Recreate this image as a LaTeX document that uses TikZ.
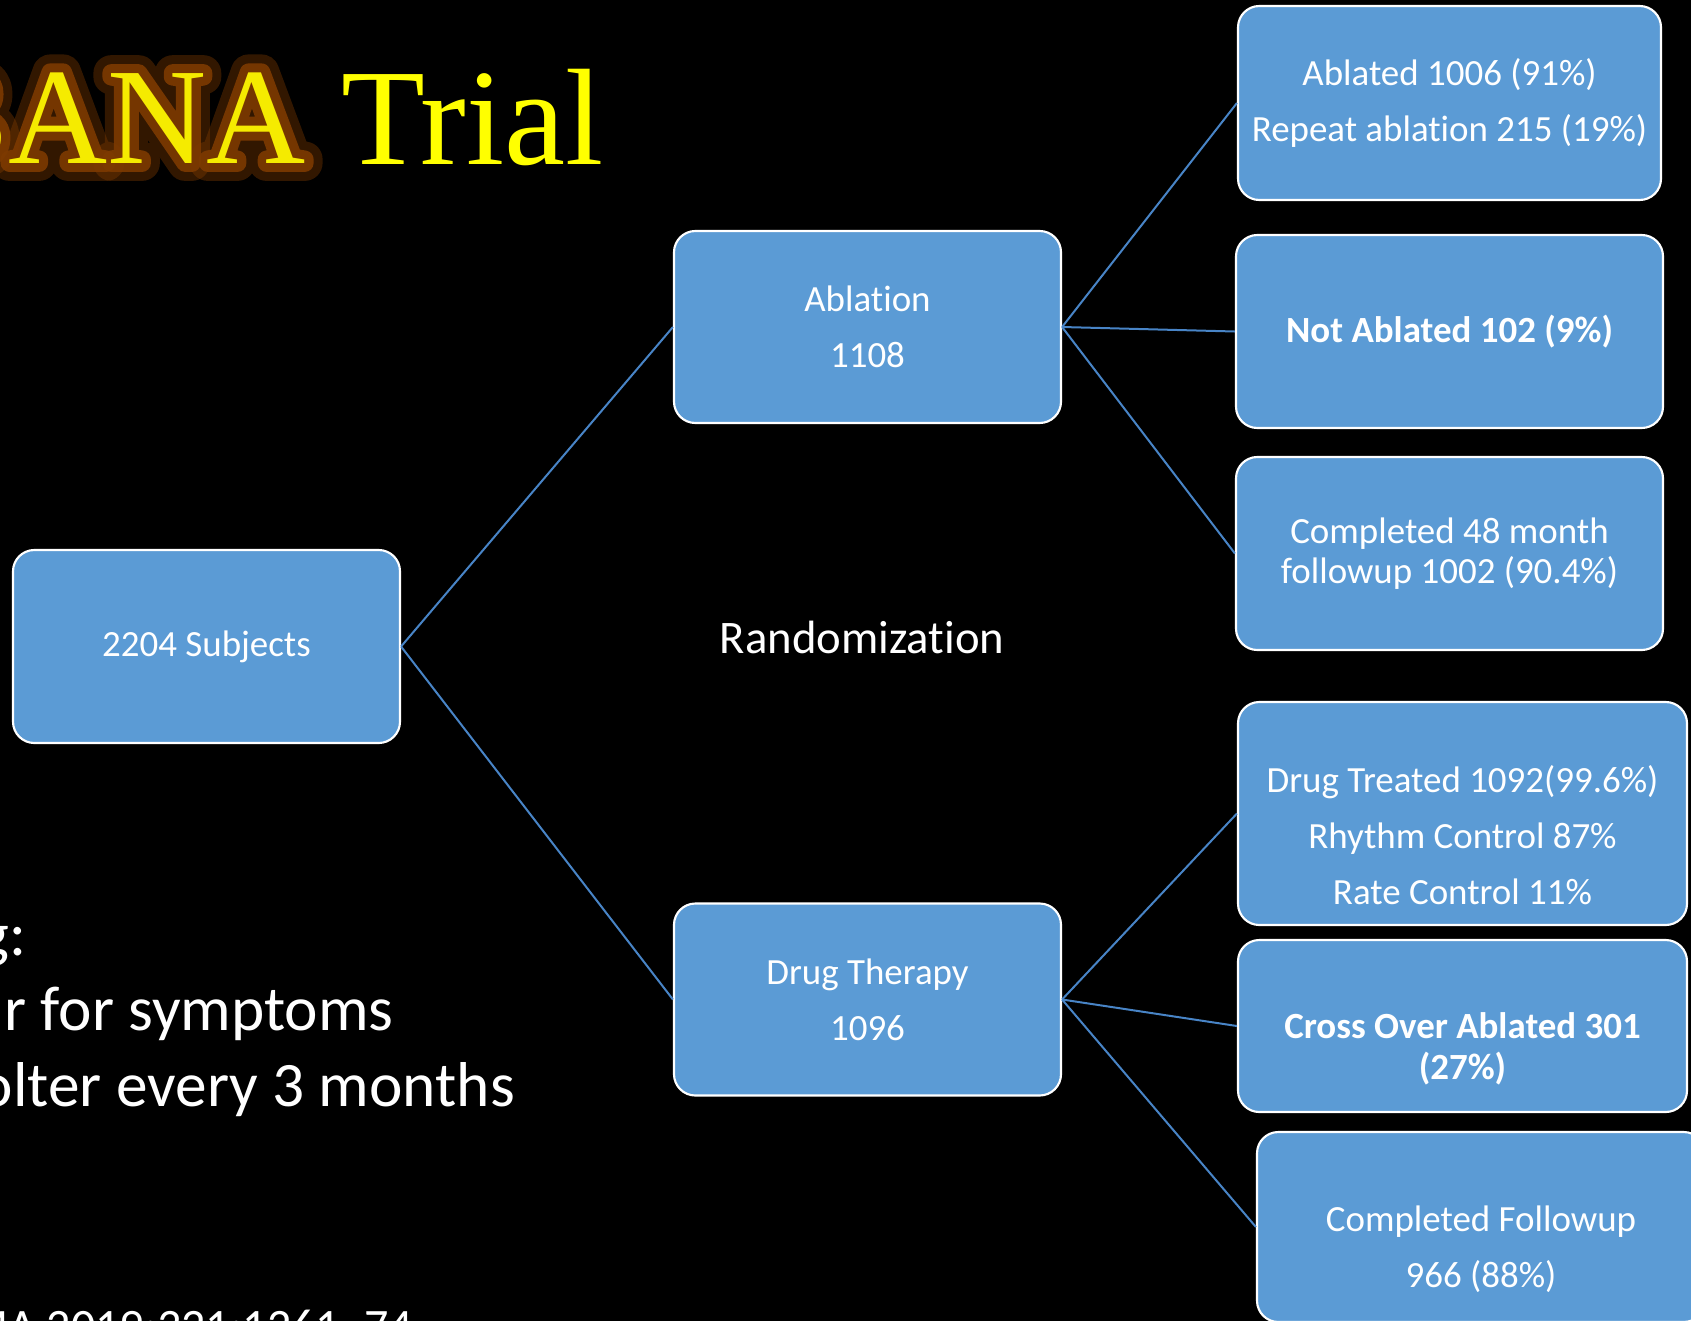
\documentclass[tikz,border=0pt]{standalone}
\usepackage{fontspec}
\setmainfont{Carlito}[Ligatures={NoCommon,NoContextual}]
\newfontfamily\titlefont{Liberation Serif}
\newfontfamily\glowwide{Liberation Serif}[FakeBold=26]
\newfontfamily\glownarrow{Liberation Serif}[FakeBold=13]
\definecolor{boxblue}{RGB}{91,155,213}
\definecolor{linkblue}{RGB}{72,132,198}
\definecolor{glowc}{RGB}{125,58,0}
\definecolor{titley}{RGB}{255,255,0}
\definecolor{titleg}{RGB}{245,235,0}
\begin{document}
\begin{tikzpicture}[x=0.75pt,y=-0.75pt,
  box/.style={draw=white, line width=1.6pt, fill=boxblue, rounded corners=16pt,
    text=white, align=center, inner sep=0pt, font=\fontsize{27.7}{42}\selectfont},
  link/.style={draw=linkblue, line width=1.5pt},
  side/.style={text=white, inner sep=0pt, anchor=base east, font=\fontsize{47.5}{52}\selectfont},
  ttl/.style={inner sep=0pt, anchor=base east, line join=round, line cap=round}]
\useasboundingbox (0,0) rectangle (1691,1321);
\fill[black] (0,0) rectangle (1691,1321);
\clip (0,0) rectangle (1691,1321);

% title with glow
\node[ttl, text=glowc, opacity=0.4, font=\glowwide\fontsize{103}{112}\selectfont] (glowo) at (306,163) {BANA};
\node[ttl, text=glowc, opacity=0.9, font=\glownarrow\fontsize{103}{112}\selectfont] (glowi) at (306,163) {BANA};
\node[ttl, text=titleg, font=\titlefont\fontsize{103}{112}\selectfont] (titleA) at (306,163) {BANA};
\node[inner sep=0pt, anchor=base west, text=titley, font=\titlefont\fontsize{103}{110}\selectfont] (titleB) at (341,164) {Trial};

% left text
\node[side] (mon) at (27,955) {g:};
\node[side] (tt) at (394,1030) {r for symptoms};
\node[side] (ho) at (515,1106) {olter every 3 months};
\node[text=white, inner sep=0pt, anchor=base east, font=\fontsize{36}{40}\selectfont] (ref) at (413,1342) {MA 2019;321:1261–74};

% boxes
\node[box, minimum width=290.25pt, minimum height=144.75pt] (subj) at (206.5,646.5) {2204 Subjects};
\node[box, minimum width=290.25pt, minimum height=144pt] (abl) at (867.5,327) {Ablation\\1108};
\node[box, minimum width=290.25pt, minimum height=144pt] (drug) at (867.5,999.5) {Drug Therapy\\1096};
\node[box, minimum width=317.25pt, minimum height=145.5pt] (abd) at (1449.5,103) {Ablated 1006 (91\%)\\Repeat ablation 215 (19\%)};
\node[box, minimum width=320.25pt, minimum height=144.75pt, font=\fontsize{27.7}{42}\selectfont\bfseries] (nabl) at (1449.5,331.5) {Not Ablated 102 (9\%)};
\node[box, minimum width=320.25pt, minimum height=144.75pt, font=\fontsize{27.7}{30.5}\selectfont] (c48) at (1449.5,553.5) {Completed 48 month\\followup 1002 (90.4\%)};
\node[box, minimum width=336.75pt, minimum height=167.25pt] (dtr) at (1462.5,813.5) {\rule{0pt}{53pt}Drug Treated 1092(99.6\%)\\Rhythm Control 87\%\\Rate Control 11\%};
\node[box, minimum width=336.75pt, minimum height=129pt, font=\fontsize{27.7}{30.75}\selectfont\bfseries] (xo) at (1462.5,1026) {\rule{0pt}{53pt}Cross Over Ablated 301\\(27\%)};
\node[box, minimum width=336pt, minimum height=142.5pt] (cfu) at (1481,1227) {\rule{0pt}{53pt}Completed Followup\\966 (88\%)};

\node[text=white, inner sep=0pt, anchor=base, font=\fontsize{35}{40}\selectfont] (rand) at (862,653) {Randomization};

% connectors
\draw[link] (subj.east) -- (abl.west);
\draw[link] (subj.east) -- (drug.west);
\draw[link] (abl.east) -- (abd.west);
\draw[link] (abl.east) -- (nabl.west);
\draw[link] (abl.east) -- (c48.west);
\draw[link] (drug.east) -- (dtr.west);
\draw[link] (drug.east) -- (xo.west);
\draw[link] (drug.east) -- (cfu.west);
\end{tikzpicture}
\end{document}
